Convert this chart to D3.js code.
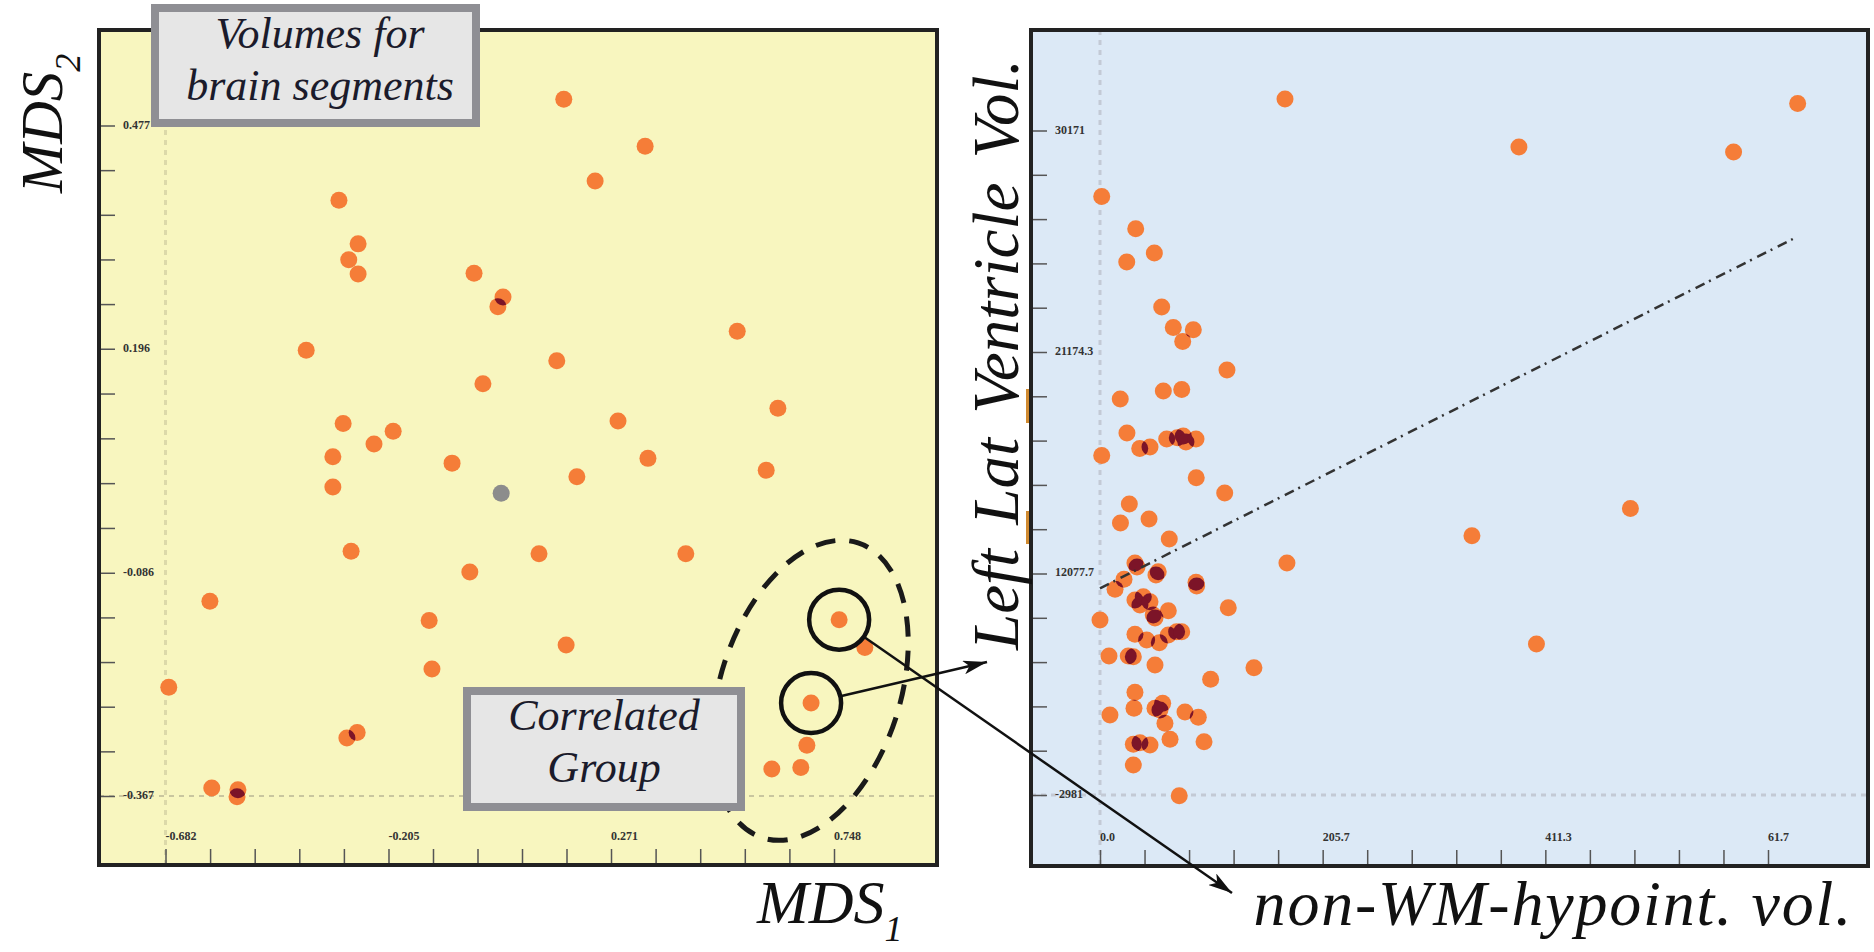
<!DOCTYPE html>
<html>
<head>
<meta charset="utf-8">
<script src="https://cdn.jsdelivr.net/npm/d3@7"></script>
<style>
  body { margin: 0; background: #fff; }
  svg { display: block; }
</style>
</head>
<body>
<svg id="chart" width="1874" height="952"></svg>
<script>
// ---- left panel: MDS projection of brain segment volumes ----
const mdsX = [-0.311, -0.270, -0.290, -0.270, -0.022, 0.040, 0.029, -0.381, -0.003, -0.302,
  -0.195, -0.236, -0.324, -0.069, -0.324, -0.285, -0.031, -0.587, -0.118, -0.112,
  -0.675, -0.272, -0.294, -0.583, -0.527, -0.529,
  0.170, 0.344, 0.237, 0.541, 0.155, 0.628, 0.286, 0.350, 0.198, 0.603,
  0.117, 0.431, 0.175, 0.759, 0.814, 0.699, 0.690, 0.615, 0.677];
const mdsY = [0.383, 0.328, 0.308, 0.290, 0.291, 0.261, 0.249, 0.194, 0.152, 0.102,
  0.092, 0.076, 0.060, 0.052, 0.022, -0.059, -0.085, -0.122, -0.146, -0.207,
  -0.230, -0.287, -0.294, -0.357, -0.359, -0.368,
  0.510, 0.451, 0.407, 0.218, 0.181, 0.121, 0.105, 0.058, 0.035, 0.043,
  -0.062, -0.062, -0.177, -0.145, -0.180, -0.250, -0.303, -0.333, -0.331];
const outlierX = [0.036];
const outlierY = [0.014];
const correlated = [39, 41];          // the two circled segments
const groupCenter = [0.697, -0.234];  // dashed ellipse around the group

const mdsXTicks = [-0.682, -0.205, 0.271, 0.748];
const mdsXLabels = ['-0.682', '-0.205', '0.271', '0.748'];
const mdsYTicks = [-0.367, -0.086, 0.196, 0.477];
const mdsYLabels = ['-0.367', '-0.086', '0.196', '0.477'];

// ---- right panel: Left Lat Ventricle vs non-WM-hypointensities ----
const volX = [170.9, 1.6, 33.0, 24.7, 50.2, 57.0, 67.7, 86.2, 76.4, 117.3,
  58.5, 75.5, 18.7, 24.9, 36.7, 46.2, 61.6, 71.4, 79.4, 88.7,
  76.9, 1.6, 88.9, 115.2, 27.1, 18.9, 45.3, 64.0, 172.7, 32.3,
  34.2, 53.8, 51.7, 22.2, 13.9, 88.7, 89.3, 32.3, 40.0, 46.2,
  36.9, 0.0, 49.2, 63.1, 50.8, 118.5, 32.3, 43.1, 54.8, 63.1,
  70.8, 75.5, 8.3, 26.1, 30.8, 50.8, 142.2, 102.2, 32.3, 9.2,
  31.4, 50.8, 57.9, 55.4, 78.5, 90.8, 60.0, 64.7, 96.1, 30.8,
  36.9, 46.2, 30.8, 73.2, 387.0, 585.3, 644.5, 490.0, 343.6, 403.2];
const volY = [31742, 26873, 25272, 23610, 24059, 21365, 20338, 20233, 19639, 18222,
  17175, 17254, 16775, 15079, 14311, 14381, 14780, 14840, 14630, 14785,
  14930, 13952, 12849, 12086, 11537, 10589, 10789, 9791, 8593, 8593,
  8394, 8159, 7995, 7780, 7281, 7631, 7446, 6748, 6912, 6663,
  6498, 5750, 5999, 6214, 5850, 6363, 5036, 4752, 4617, 5001,
  5166, 5166, 3954, 3954, 3919, 3505, 3370, 2791, 2143, 1010,
  1345, 1345, 1594, 1260, 1160, 895, 596, -202, -322, -452,
  -372, -486, -1484, -3016, 29348, 29103, 31518, 11313, 9955, 4552];
const trendX = [0, 640];
const trendY = [7331, 24758];
const rugY = [[15578, 17274], [9541, 11188]];   // orange marks beside the y axis

const volXTicks = [0, 205.7, 411.4, 617.1];
const volXLabels = ['0.0', '205.7', '411.3', '61.7'];
const volYTicks = [-2981, 8069.7, 19120.3, 30171];
const volYLabels = ['-2981', '12077.7', '21174.3', '30171'];

const ORANGE = '#f57d38', MAROON = '#7c1428', GRAY = '#8c8c8c';
const R = 8.5;
const SERIF = '"Liberation Serif", "Times New Roman", serif';

const svg = d3.select('#chart');
const defs = svg.append('defs');

function minors(majors) {
  const out = [];
  for (let i = 0; i < majors.length - 1; i++)
    for (let k = 0; k < 5; k++) out.push(majors[i] + (majors[i + 1] - majors[i]) * k / 5);
  out.push(majors[majors.length - 1]);
  return out;
}

function panel(p) {
  const g = svg.append('g');
  g.append('rect').attr('x', p.x0).attr('y', p.y0)
    .attr('width', p.x1 - p.x0).attr('height', p.y1 - p.y0).attr('fill', p.bg);

  // guide lines through the lowest ticks
  g.append('line').attr('x1', p.x(p.xTicks[0])).attr('x2', p.x(p.xTicks[0]))
    .attr('y1', p.y0).attr('y2', p.y1)
    .attr('stroke', p.guideV).attr('stroke-width', 3).attr('stroke-dasharray', '5,5');
  g.append('line').attr('x1', p.x0).attr('x2', p.x1)
    .attr('y1', p.y(p.yTicks[0])).attr('y2', p.y(p.yTicks[0]))
    .attr('stroke', p.guideH).attr('stroke-width', p.guideHW).attr('stroke-dasharray', '5,5');

  const yAxis = g.append('g').attr('transform', `translate(${p.x0},0)`)
    .call(d3.axisRight(p.y).tickValues(minors(p.yTicks)).tickSize(16).tickFormat(''));
  const xAxis = g.append('g').attr('transform', `translate(0,${p.y1})`)
    .call(d3.axisTop(p.x).tickValues(minors(p.xTicks)).tickSize(16).tickFormat(''));
  [yAxis, xAxis].forEach(a => {
    a.select('.domain').remove();
    a.selectAll('line').attr('stroke', '#555').attr('stroke-width', 1.5);
  });

  g.selectAll('.ylab').data(p.yTicks).join('text')
    .attr('x', p.x0 + 24).attr('y', d => p.y(d) + 3)
    .attr('font-family', SERIF).attr('font-size', 12).attr('font-weight', 'bold').attr('fill', '#333')
    .text((d, i) => p.yLabels[i]);
  g.selectAll('.xlab').data(p.xTicks).join('text')
    .attr('x', d => p.x(d)).attr('y', p.y1 - 25)
    .attr('font-family', SERIF).attr('font-size', 12).attr('font-weight', 'bold').attr('fill', '#333')
    .text((d, i) => p.xLabels[i]);

  // dots; where two dots overlap the shared part is drawn dark
  const pts = p.pts.map(d => ({ cx: p.x(d.x), cy: p.y(d.y), c: d.c }));
  pts.forEach((d, i) => {
    defs.append('clipPath').attr('id', p.id + i)
      .append('circle').attr('cx', d.cx).attr('cy', d.cy).attr('r', R);
  });
  g.selectAll('.dot').data(pts).join('circle')
    .attr('cx', d => d.cx).attr('cy', d => d.cy).attr('r', R).attr('fill', d => d.c);
  for (let i = 0; i < pts.length; i++)
    for (let j = i + 1; j < pts.length; j++) {
      const dd = Math.hypot(pts[i].cx - pts[j].cx, pts[i].cy - pts[j].cy);
      if (dd < 2 * R)
        g.append('circle').attr('cx', pts[j].cx).attr('cy', pts[j].cy).attr('r', R)
          .attr('clip-path', `url(#${p.id}${i})`).attr('fill', MAROON);
    }

  p.extra && p.extra(g);

  g.append('rect').attr('x', p.x0).attr('y', p.y0)
    .attr('width', p.x1 - p.x0).attr('height', p.y1 - p.y0)
    .attr('fill', 'none').attr('stroke', '#222').attr('stroke-width', 4);
  return g;
}

// left panel
const xL = d3.scaleLinear().domain([-0.682, 0.748]).range([165.5, 834]);
const yL = d3.scaleLinear().domain([-0.367, 0.477]).range([796, 125.5]);
const leftPts = mdsX.map((v, i) => ({ x: v, y: mdsY[i], c: ORANGE }))
  .concat(outlierX.map((v, i) => ({ x: v, y: outlierY[i], c: GRAY })));
panel({
  id: 'cl', x0: 99, x1: 937, y0: 30, y1: 865, bg: '#f8f6bf',
  x: xL, y: yL, xTicks: mdsXTicks, yTicks: mdsYTicks, xLabels: mdsXLabels, yLabels: mdsYLabels,
  guideV: '#dcd9a9', guideH: '#b9b795', guideHW: 1.5, pts: leftPts
});

// right panel
const xR = d3.scaleLinear().domain([0, 617.1]).range([1100, 1768]);
const yR = d3.scaleLinear().domain([-2981, 30171]).range([795, 130.5]);
const rightPts = volX.map((v, i) => ({ x: v, y: volY[i], c: ORANGE }));
panel({
  id: 'cr', x0: 1031, x1: 1868, y0: 30, y1: 866, bg: '#dce9f6',
  x: xR, y: yR, xTicks: volXTicks, yTicks: volYTicks, xLabels: volXLabels, yLabels: volYLabels,
  guideV: '#c3cad5', guideH: '#c3cad5', guideHW: 3, pts: rightPts,
  extra: g => {
    g.append('path').datum(trendX.map((v, i) => [v, trendY[i]]))
      .attr('d', d3.line().x(d => xR(d[0])).y(d => yR(d[1])))
      .attr('fill', 'none').attr('stroke', '#333').attr('stroke-width', 2.5)
      .attr('stroke-dasharray', '10,5,2,6');
  }
});
svg.selectAll('.rug').data(rugY).join('rect')
  .attr('x', 1026).attr('width', 3)
  .attr('y', d => yR(d[1])).attr('height', d => yR(d[0]) - yR(d[1]))
  .attr('fill', '#d08a30');

// ---- annotations ----
const ann = svg.append('g');
ann.append('ellipse')
  .attr('transform', `translate(${xL(groupCenter[0])},${yL(groupCenter[1])}) rotate(18)`)
  .attr('rx', 90).attr('ry', 155)
  .attr('fill', 'none').attr('stroke', '#1a1a1a').attr('stroke-width', 5).attr('stroke-dasharray', '20,14');

function box(x, y, w, h, lines, cx, baselines) {
  ann.append('rect').attr('x', x).attr('y', y).attr('width', w).attr('height', h)
    .attr('fill', '#e6e6e6').attr('stroke', '#8f8f94').attr('stroke-width', 8);
  lines.forEach((t, i) => ann.append('text').attr('x', cx).attr('y', baselines[i])
    .attr('text-anchor', 'middle').attr('font-family', SERIF).attr('font-style', 'italic')
    .attr('font-size', 44).attr('fill', '#1b1b2b').text(t));
}
box(155, 8, 321, 115, ['Volumes for', 'brain segments'], 320, [48, 100]);
box(467, 691, 274, 116, ['Correlated', 'Group'], 604, [730, 782]);

const CR = 30;
const rings = correlated.map(i => [xL(mdsX[i]), yL(mdsY[i])]);
ann.selectAll('.ring').data(rings).join('circle')
  .attr('cx', d => d[0]).attr('cy', d => d[1]).attr('r', CR)
  .attr('fill', 'none').attr('stroke', '#111').attr('stroke-width', 4.5);

defs.append('marker').attr('id', 'arrow').attr('viewBox', '0 0 24 14')
  .attr('refX', 24).attr('refY', 7).attr('markerWidth', 24).attr('markerHeight', 14)
  .attr('markerUnits', 'userSpaceOnUse').attr('orient', 'auto')
  .append('path').attr('d', 'M0,0 L24,7 L0,14 L6,7 Z').attr('fill', '#111');

const tips = [[1232, 893], [987, 662]];
rings.forEach((c, i) => {
  const t = tips[i];
  const a = Math.atan2(t[1] - c[1], t[0] - c[0]);
  ann.append('line')
    .attr('x1', c[0] + CR * Math.cos(a)).attr('y1', c[1] + CR * Math.sin(a))
    .attr('x2', t[0]).attr('y2', t[1])
    .attr('stroke', '#111').attr('stroke-width', 2.5).attr('marker-end', 'url(#arrow)');
});

// axis titles
function title(x, y, rot, main, sub, opts) {
  opts = opts || {};
  const t = svg.append('text')
    .attr('transform', `translate(${x},${y}) rotate(${rot})`)
    .attr('text-anchor', opts.anchor || 'start')
    .attr('font-family', SERIF).attr('font-style', 'italic')
    .attr('font-size', opts.size || 62).attr('fill', '#111')
    .attr('letter-spacing', opts.ls || 0).attr('word-spacing', opts.ws || 0);
  t.append('tspan').text(main);
  if (sub) t.append('tspan').attr('font-size', 36).attr('dy', 18).text(sub);
}
title(62, 193, -90, 'MDS', '2', { size: 59 });
title(757, 923, 0, 'MDS', '1');
title(1853, 925, 0, 'non-WM-hypoint. vol.', null, { anchor: 'end', size: 64, ls: 1.8 });
title(1018, 650, -90, 'Left Lat Ventricle Vol.', null, { size: 65, ws: 8 });
</script>
</body>
</html>
